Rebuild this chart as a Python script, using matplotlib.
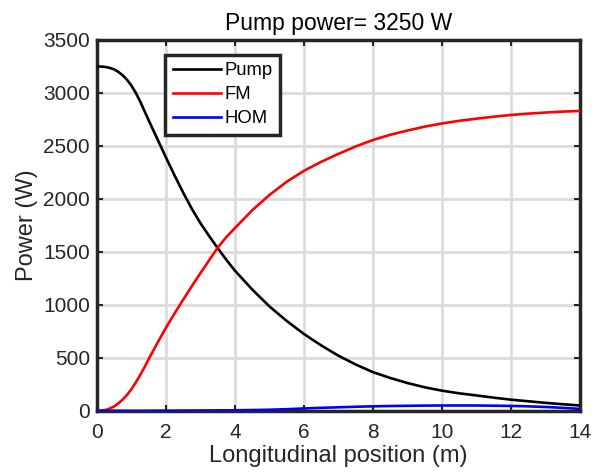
import numpy as np
import matplotlib
matplotlib.use('Agg')
import matplotlib.pyplot as plt

plt.rcParams['font.family'] = ['Liberation Sans', 'DejaVu Sans']

# longitudinal position (m) and power (W)
z = [0, 0.125, 0.25, 0.375, 0.5, 0.625, 0.75, 0.875, 1, 1.125, 1.25, 1.375, 1.5, 1.75, 2,
     2.25, 2.5, 2.75, 3, 3.25, 3.5, 3.75, 4, 4.5, 5, 5.5, 6, 6.5, 7, 7.5, 8,
     8.5, 9, 9.5, 10, 10.5, 11, 11.5, 12, 12.5, 13, 13.5, 14]
pump = [3250, 3249, 3245, 3236, 3222, 3197, 3165, 3122, 3068, 3000, 2920, 2830, 2740, 2565, 2390,
        2220, 2058, 1906, 1770, 1650, 1535, 1425, 1322, 1145, 985, 848, 725, 617, 520, 437, 365,
        310, 262, 222, 190, 165, 145, 124, 105, 90, 75, 62, 50]
fm = [0, 2, 8, 22, 42, 72, 108, 152, 205, 268, 337, 410, 490, 640, 785,
      920, 1050, 1177, 1300, 1420, 1540, 1640, 1725, 1893, 2037, 2162, 2265, 2350, 2425, 2495, 2556,
      2605, 2645, 2682, 2712, 2737, 2757, 2776, 2792, 2805, 2815, 2824, 2830]
hom = [0, 0, 0, 0, 0, 0, 0, 0, 0, 0, 0, 0, 0, 1, 1,
       1, 2, 2, 3, 3, 4, 4, 5, 7, 10, 15, 22, 28, 33, 38, 42,
       45, 47, 49, 50, 50, 50, 48, 46, 42, 36, 28, 18]

fig = plt.figure(figsize=(5.99, 4.76), dpi=100)
ax = fig.add_axes([0.162, 0.137, 0.806, 0.779])

ax.plot(z, pump, color='k', lw=1.9, label='Pump', zorder=3)
ax.plot(z, fm, color='#ff0000', lw=1.9, label='FM', zorder=3)
ax.plot(z, hom, color='#0000ff', lw=1.9, label='HOM', zorder=3)

ax.set_xlim(0, 14)
ax.set_ylim(0, 3500)
ax.set_xticks(np.arange(0, 15, 2))
ax.set_yticks(np.arange(0, 3501, 500))
ax.grid(True, color='#dcdcdc', lw=2)
ax.set_axisbelow(True)
ax.tick_params(direction='in', top=True, right=True, labelsize=15, length=4, width=1.5,
               colors='#262626')
ax.tick_params(axis='x', pad=9)
ax.tick_params(axis='y', pad=5)
for s in ax.spines.values():
    s.set_linewidth(2.5)
    s.set_color('#262626')

ax.set_xlabel('Longitudinal position (m)', fontsize=17, color='#262626', labelpad=2)
ax.set_ylabel('Power (W)', fontsize=17, color='#262626', labelpad=4)
ax.set_title('Pump power= 3250 W', fontsize=16.5, color='k', pad=7)

leg = ax.legend(loc='upper left', bbox_to_anchor=(0.141, 0.96), fontsize=13.3, fancybox=False,
                framealpha=1, edgecolor='#262626', handlelength=2.6, handletextpad=0.2,
                labelspacing=0.38, borderpad=0.4, borderaxespad=0)
leg.get_frame().set_linewidth(2.5)

fig.savefig('out.png')
